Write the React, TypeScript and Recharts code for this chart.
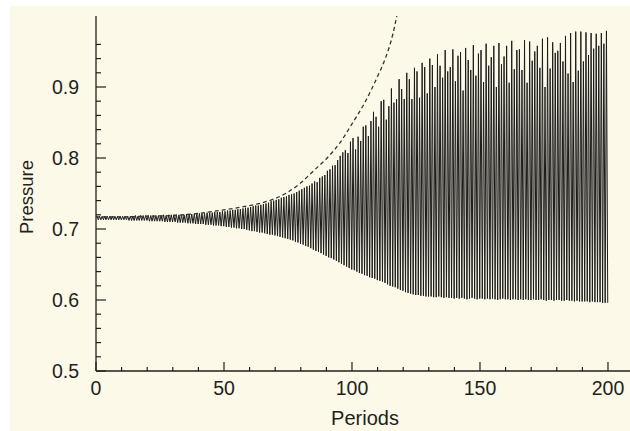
import { LineChart, Line, XAxis, YAxis } from "recharts";

// peak value of each period (0..199)
const upperPeaks = [
  0.718, 0.718, 0.718, 0.718, 0.718, 0.718, 0.718, 0.718, 0.718, 0.718,
  0.718, 0.718, 0.718, 0.718, 0.718, 0.719, 0.718, 0.719, 0.719, 0.719,
  0.719, 0.719, 0.719, 0.719, 0.719, 0.719, 0.72, 0.719, 0.72, 0.72,
  0.72, 0.72, 0.72, 0.72, 0.72, 0.721, 0.721, 0.721, 0.721, 0.722,
  0.722, 0.722, 0.722, 0.723, 0.723, 0.723, 0.724, 0.724, 0.724, 0.725,
  0.725, 0.726, 0.726, 0.727, 0.727, 0.728, 0.728, 0.729, 0.73, 0.73,
  0.731, 0.732, 0.733, 0.733, 0.734, 0.735, 0.736, 0.737, 0.739, 0.74,
  0.741, 0.742, 0.744, 0.745, 0.746, 0.748, 0.749, 0.75, 0.752, 0.754,
  0.756, 0.758, 0.76, 0.761, 0.764, 0.767, 0.766, 0.772, 0.774, 0.776,
  0.782, 0.784, 0.789, 0.79, 0.797, 0.803, 0.808, 0.811, 0.807, 0.823,
  0.828, 0.812, 0.83, 0.824, 0.844, 0.846, 0.831, 0.852, 0.865, 0.858,
  0.844, 0.88, 0.882, 0.854, 0.873, 0.898, 0.878, 0.883, 0.911, 0.897,
  0.883, 0.92, 0.911, 0.883, 0.927, 0.922, 0.885, 0.934, 0.928, 0.891,
  0.94, 0.931, 0.9, 0.946, 0.93, 0.913, 0.952, 0.922, 0.928, 0.953,
  0.908, 0.944, 0.949, 0.895, 0.955, 0.938, 0.924, 0.959, 0.916, 0.947,
  0.952, 0.907, 0.961, 0.93, 0.942, 0.958, 0.9, 0.962, 0.932, 0.943,
  0.958, 0.906, 0.965, 0.925, 0.952, 0.953, 0.924, 0.966, 0.906, 0.964,
  0.937, 0.95, 0.958, 0.927, 0.968, 0.9, 0.97, 0.926, 0.963, 0.948,
  0.951, 0.962, 0.936, 0.972, 0.919, 0.976, 0.907, 0.978, 0.923, 0.978,
  0.936, 0.977, 0.945, 0.976, 0.954, 0.975, 0.958, 0.976, 0.961, 0.979,
];

// trough value of each period (0..199)
const lowerTroughs = [
  0.713, 0.713, 0.713, 0.713, 0.713, 0.713, 0.713, 0.713, 0.713, 0.713,
  0.713, 0.713, 0.712, 0.712, 0.712, 0.712, 0.712, 0.712, 0.712, 0.712,
  0.711, 0.711, 0.711, 0.711, 0.711, 0.711, 0.71, 0.71, 0.71, 0.71,
  0.71, 0.709, 0.709, 0.709, 0.709, 0.708, 0.708, 0.708, 0.707, 0.707,
  0.707, 0.707, 0.706, 0.706, 0.706, 0.705, 0.705, 0.705, 0.704, 0.704,
  0.703, 0.703, 0.702, 0.702, 0.701, 0.701, 0.7, 0.7, 0.699, 0.698,
  0.697, 0.697, 0.696, 0.695, 0.695, 0.694, 0.693, 0.692, 0.692, 0.691,
  0.69, 0.689, 0.688, 0.687, 0.686, 0.685, 0.684, 0.682, 0.681, 0.679,
  0.678, 0.676, 0.675, 0.673, 0.671, 0.669, 0.668, 0.666, 0.664, 0.662,
  0.66, 0.659, 0.657, 0.655, 0.653, 0.651, 0.649, 0.647, 0.645, 0.643,
  0.642, 0.64, 0.638, 0.637, 0.635, 0.634, 0.632, 0.631, 0.63, 0.628,
  0.627, 0.626, 0.624, 0.622, 0.62, 0.619, 0.618, 0.616, 0.614, 0.613,
  0.611, 0.61, 0.609, 0.608, 0.607, 0.607, 0.606, 0.606, 0.605, 0.605,
  0.605, 0.604, 0.604, 0.605, 0.604, 0.603, 0.604, 0.603, 0.603, 0.602,
  0.603, 0.602, 0.603, 0.602, 0.601, 0.602, 0.603, 0.602, 0.601, 0.602,
  0.602, 0.601, 0.602, 0.601, 0.602, 0.601, 0.6, 0.601, 0.602, 0.601,
  0.601, 0.6, 0.601, 0.601, 0.6, 0.601, 0.6, 0.601, 0.6, 0.6,
  0.601, 0.6, 0.6, 0.601, 0.6, 0.599, 0.6, 0.6, 0.599, 0.6,
  0.6, 0.599, 0.599, 0.6, 0.599, 0.599, 0.598, 0.599, 0.598, 0.598,
  0.598, 0.598, 0.597, 0.598, 0.597, 0.597, 0.597, 0.596, 0.596, 0.596,
];

// dashed linear-growth envelope
const envelopePeriods = [0, 10, 20, 30, 40, 50, 60, 65, 70, 75, 80, 85, 90, 95, 100, 105, 110, 113, 116, 117.5];
const envelopeValues = [0.717, 0.717, 0.718, 0.719, 0.722, 0.727, 0.733, 0.737, 0.743, 0.752, 0.765, 0.782, 0.799, 0.82, 0.848, 0.878, 0.915, 0.94, 0.975, 1.0];

const xTicks = [0, 10, 20, 30, 40, 50, 60, 70, 80, 90, 100, 110, 120, 130, 140, 150, 160, 170, 180, 190, 200];
const xLabels = [0, 50, 100, 150, 200];
const yTicks = [0.5, 0.52, 0.54, 0.56, 0.58, 0.6, 0.62, 0.64, 0.66, 0.68, 0.7, 0.72, 0.74, 0.76, 0.78, 0.8, 0.82, 0.84, 0.86, 0.88, 0.9, 0.92, 0.94, 0.96];
const yLabels = [0.5, 0.6, 0.7, 0.8, 0.9];

const pressureData = upperPeaks.flatMap((hi, i) => [
  { period: i + 0.4, pressure: hi },
  { period: i + 0.9, pressure: lowerTroughs[i] },
]);
const envelopeData = envelopePeriods.map((p, i) => ({ period: p, envelope: envelopeValues[i] }));

const ink = "#231f20";
const font = "'Liberation Sans', Arial, sans-serif";

function XTick(props: any) {
  const { x, y, payload } = props;
  const major = xLabels.includes(payload.value);
  return (
    <g>
      <line x1={x} x2={x} y1={y} y2={y - (major ? 9 : 4)} stroke={ink} strokeWidth={1.2} />
      {major && (
        <text x={x} y={y + 24} textAnchor="middle" fill={ink} fontSize={19.5} fontFamily={font}>
          {payload.value}
        </text>
      )}
    </g>
  );
}

function YTick(props: any) {
  const { x, y, payload } = props;
  const major = yLabels.some((l) => Math.abs(l - payload.value) < 1e-6);
  return (
    <g>
      <line x1={x} x2={x + (major ? 10 : 5)} y1={y} y2={y} stroke={ink} strokeWidth={1.2} />
      {major && (
        <text x={x - 17} y={y + 6.5} textAnchor="end" fill={ink} fontSize={19.5} fontFamily={font}>
          {payload.value.toFixed(1)}
        </text>
      )}
    </g>
  );
}

export default function App() {
  return (
    <div style={{ position: "absolute", left: 0, top: 0, width: 630, height: 431, background: "#ffffff" }}>
      <div style={{ position: "absolute", left: 10, top: 6, width: 620, height: 425, background: "#fcf9e8" }} />
      <div style={{ position: "absolute", left: 0, top: 0 }}>
        <LineChart width={630} height={431} margin={{ top: 16, right: 0, bottom: 0, left: 0 }}>
          <XAxis
            type="number"
            dataKey="period"
            domain={[0, 208.6]}
            ticks={xTicks}
            interval={0}
            tickSize={0}
            tickMargin={0}
            tick={<XTick />}
            height={60}
            axisLine={{ stroke: ink, strokeWidth: 1.3 }}
            allowDataOverflow
          />
          <YAxis
            type="number"
            domain={[0.5, 1.0]}
            ticks={yTicks}
            interval={0}
            tickSize={0}
            tickMargin={0}
            tick={<YTick />}
            width={96}
            axisLine={{ stroke: ink, strokeWidth: 1.3 }}
            allowDataOverflow
          />
          <Line
            data={pressureData}
            dataKey="pressure"
            type="linear"
            stroke="#1c1c1c"
            strokeWidth={1}
            dot={false}
            isAnimationActive={false}
          />
          <Line
            data={envelopeData}
            dataKey="envelope"
            type="monotone"
            stroke="#333"
            strokeWidth={1.3}
            strokeDasharray="4 3"
            dot={false}
            isAnimationActive={false}
          />
        </LineChart>
      </div>
      <svg width={630} height={431} style={{ position: "absolute", left: 0, top: 0, pointerEvents: "none" }}>
        <text x={365} y={425} textAnchor="middle" fill={ink} fontSize={20} fontFamily={font}>
          Periods
        </text>
        <text
          x={33}
          y={197}
          textAnchor="middle"
          fill={ink}
          fontSize={18.5}
          fontFamily={font}
          transform="rotate(-90, 33, 197)"
        >
          Pressure
        </text>
      </svg>
    </div>
  );
}
